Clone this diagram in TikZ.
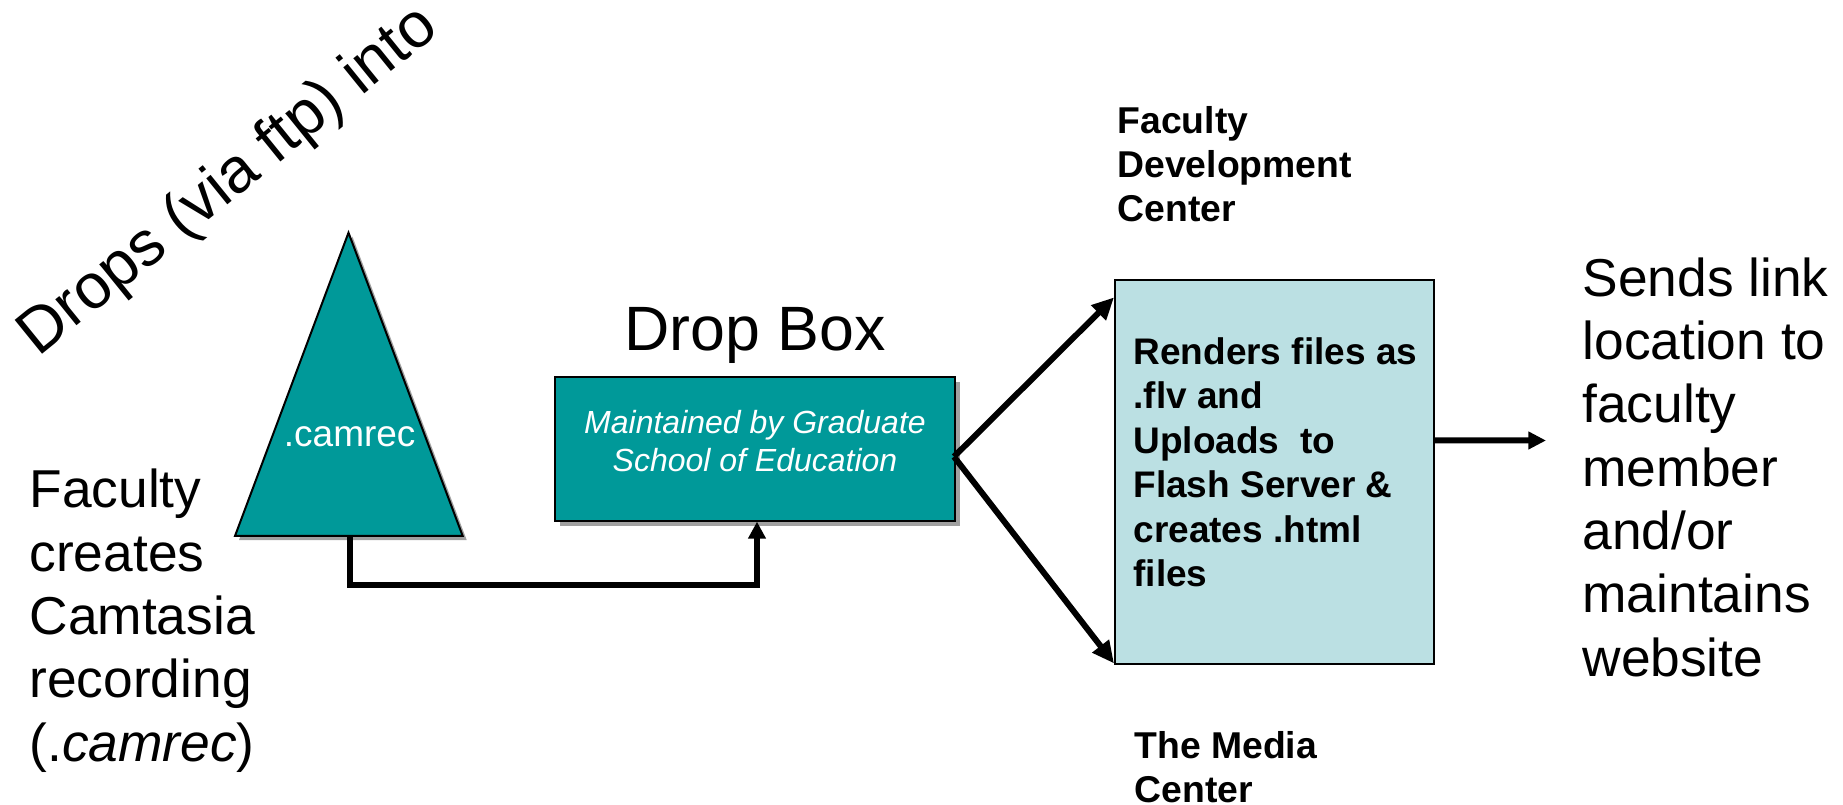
\documentclass[tikz,border=0pt]{standalone}
\usepackage{fontspec}
\setmainfont{Liberation Sans}
\usetikzlibrary{arrows.meta,calc}

\definecolor{dropteal}{RGB}{0,153,153}
\definecolor{renderblue}{RGB}{187,224,227}
\definecolor{shadowgrey}{RGB}{160,160,160}

\tikzset{every picture/.style={line width=0.75pt}}
\tikzset{
	shape line/.style={line width=1.5pt},
	fork arrow/.style={line width=4.5pt,-{Triangle[length=16.5pt,width=15pt]}},
	join arrow/.style={line width=4.5pt,-{Triangle[length=12.75pt,width=12.75pt]}},
	send arrow/.style={line width=4.5pt,-{Triangle[length=13.3pt,width=12.75pt]}},
	big label/.style={anchor=north west,inner sep=0pt,align=left,font=\fontsize{40}{47.5}\selectfont},
	centre label/.style={anchor=north west,inner sep=0pt,align=left,font=\bfseries\fontsize{28}{33}\selectfont},
}

\begin{document}
\begin{tikzpicture}[x=0.75pt,y=0.75pt,yscale=-1,xscale=1]
		\useasboundingbox (0,0) rectangle (1843,805);

		%Shape: Triangle (shadow)
		\fill [shadowgrey] (352.5,236.7) -- (466.7,540) -- (239,540) -- cycle ;
		%Shape: Triangle
		\draw [shape line,fill=dropteal] (348.5,232.7) -- (462.7,536) -- (235,536) -- cycle ;
		\coordinate (tribase) at (349.5,536) ;
		\node (camrec) at (349.7,446.7) [anchor=base,text=white,font=\fontsize{27.75}{33}\selectfont] {.camrec};

		%Shape: Rectangle (shadow)
		\fill [shadowgrey] (560,382) rectangle (960,526) ;
		%Shape: Rectangle
		\node (dropbox) at (755,449) [draw,shape line,fill=dropteal,minimum width=300pt,minimum height=107.5pt,inner sep=0pt] {};
		\node (dropnote) at (755,441) [text=white,align=center,font=\itshape\fontsize{24}{28.75}\selectfont] {Maintained by Graduate\\School of Education};
		\node (droptitle) at (755,351) [anchor=base,font=\fontsize{47}{56}\selectfont] {Drop Box};

		%Shape: Rectangle
		\node (render) at (1274.5,472.4) [draw,shape line,fill=renderblue,minimum width=239.25pt,minimum height=288pt,inner sep=0pt] {};
		\node (rendertext) at (1133,337) [anchor=north west,inner sep=0pt,align=left,font=\bfseries\fontsize{27.75}{33.4}\selectfont] {Renders files as\\.flv and\\Uploads\ \ to\\Flash Server \&\\creates .html\\files};

		% Text Node
		\node (drops) at (38,358) [anchor=base west,rotate=39,inner sep=0pt,font=\fontsize{47.5}{56}\selectfont] {Drops (via ftp) into};
		% Text Node
		\node (faculty) at (29,468.7) [big label] {Faculty\\creates\\Camtasia\\recording\\(.\textit{camrec})};
		% Text Node
		\node (sends) at (1582,257) [big label] {Sends link\\location to\\faculty\\member\\and/or\\maintains\\website};
		% Text Node
		\node (fdc) at (1117,106) [centre label] {Faculty\\Development\\Center};
		% Text Node
		\node (tmc) at (1134,731) [centre label] {The Media\\Center};

		%Arrows
		\coordinate (fork) at (954,456.7) ;
		\coordinate (sendtip) at (1546,440.5) ;
		\draw [join arrow] (tribase) -- ++(0,48.7) -| ($(dropbox.south)+(2,0)$) ;
		\draw [fork arrow] (fork) -- ($(render.north west)+(0,18)$) ;
		\draw [fork arrow] (fork) -- ($(render.south west)+(0,-2)$) ;
		\draw [send arrow] ($(render.east)+(0,-32)$) -- (sendtip) ;

\end{tikzpicture}
\end{document}
